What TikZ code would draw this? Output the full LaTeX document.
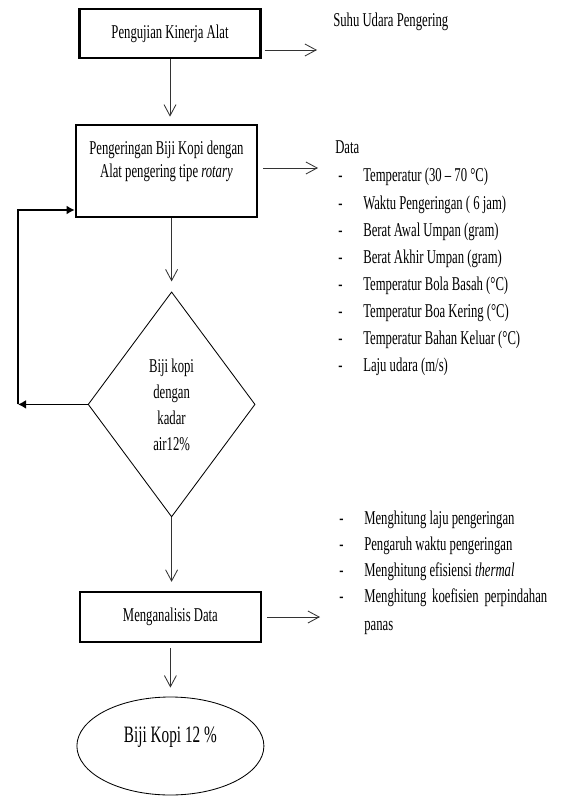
\documentclass[tikz,border=0pt]{standalone}
\usepackage{fontspec}
\setmainfont{Liberation Serif}[FakeStretch=0.65]
\usetikzlibrary{arrows.meta,shapes.geometric}

\begin{document}
\begin{tikzpicture}[
  every node/.style={font=\fontsize{13.9pt}{16.3pt}\selectfont,inner sep=0pt},
  proses/.style={draw,line width=1.6pt,minimum width=4.53cm},
  putusan/.style={diamond,draw,line width=0.6pt,minimum width=4.175cm,
    minimum height=5.625cm,align=center,
    font=\fontsize{13.9pt}{18.5pt}\selectfont},
  akhir/.style={ellipse,draw,line width=0.6pt,minimum width=4.675cm,
    minimum height=2.45cm,font=\fontsize{16.7pt}{20pt}\selectfont},
  alur/.style={-{Straight Barb[length=0.28cm,width=0.3cm]},line width=0.6pt,black!80},
  balik/.style={-{Latex[length=0.2cm,width=0.22cm]},line width=1pt},
  isian/.style={anchor=base west}]
  \useasboundingbox (0,0) rectangle (14.05,-19.9);

  % alur utama
  \node[proses,minimum height=1.22cm] (uji) at (4.25,-0.84) {Pengujian Kinerja Alat};
  \node[proses,minimum height=2.3cm,align=center] (kering) at (4.16,-4.275)
    {Pengeringan Biji Kopi dengan\\Alat pengering tipe \textit{rotary}\\\mbox{}};
  \node[putusan] (cek) at (4.29,-10.11) {Biji kopi\\dengan\\kadar\\air12\%};
  \node[proses,minimum height=1.25cm] (analisis) at (4.26,-15.425) {Menganalisis Data};
  \node[akhir,text depth=0.55cm] (hasil) at (4.26,-18.65) {Biji Kopi 12 \%};

  \draw[alur,shorten >=0.18cm] (uji.south) -- (uji.south |- kering.north);
  \draw[alur,shorten >=0.25cm] (cek.north |- kering.south) -- (cek.north);
  \draw[alur,shorten >=0.225cm] (cek.south) -- (cek.south |- analisis.north);
  \draw[alur,shorten <=0.125cm,shorten >=0.225cm] (analisis.south) -- (hasil.north);

  % panah ke keterangan
  \coordinate (keSuhu) at (7.925,-1.25);
  \coordinate (keData) at (7.95,-4.2);
  \coordinate (keHitung) at (8.0,-15.425);
  \draw[alur,shorten <=0.075cm] (uji.east |- keSuhu) -- (keSuhu);
  \draw[alur,shorten <=0.125cm] (kering.east |- keData) -- (keData);
  \draw[alur,shorten <=0.125cm] (analisis.east) -- (keHitung);

  % umpan balik
  \coordinate (kiriBawah) at (0.45,-10.11);
  \coordinate (kiriAtas) at (0.45,-5.25);
  \draw[balik] (cek.west) -- (kiriBawah);
  \draw[balik] (kiriBawah) |- (kering.west |- kiriAtas);

  % keterangan
  \node[isian] (suhu) at (8.325,-0.675) {Suhu Udara Pengering};
  \node[isian] (data) at (8.375,-3.85) {Data};
  \foreach \isi [count=\i] in {{Temperatur (30 -- 70 °C)},{Waktu Pengeringan ( 6 jam)},
    {Berat Awal Umpan (gram)},{Berat Akhir Umpan (gram)},{Temperatur Bola Basah (°C)},
    {Temperatur Boa Kering (°C)},{Temperatur Bahan Keluar (°C)},{Laju udara (m/s)}}{
    \pgfmathsetmacro{\yy}{-4.55-0.6775*(\i-1)}
    \node[isian] (strip\i) at (8.45,\yy) {-};
    \node[isian] (data\i) at (9.075,\yy) {\isi};
  }
  \foreach \isi [count=\i] in {{Menghitung laju pengeringan},{Pengaruh waktu pengeringan},
    {Menghitung efisiensi \textit{thermal}},
    {\parbox[t]{4.575cm}{\hyphenpenalty=10000\baselineskip=0.7cm
      Menghitung koefisien perpindahan\linebreak panas}}}{
    \pgfmathsetmacro{\yy}{-13.1-0.6575*(\i-1)}
    \node[isian] (garis\i) at (8.475,\yy) {-};
    \node[isian] (hitung\i) at (9.1,\yy) {\isi};
  }
\end{tikzpicture}
\end{document}
